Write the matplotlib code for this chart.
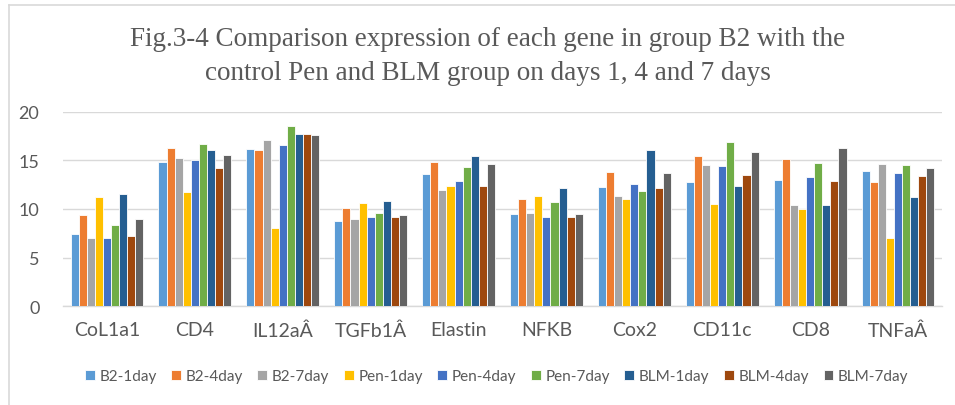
import matplotlib
matplotlib.use("Agg")
import matplotlib.pyplot as plt
import numpy as np
from matplotlib.lines import Line2D

categories = ["CoL1a1", "CD4", "IL12aÂ", "TGFb1Â", "Elastin", "NFKB", "Cox2", "CD11c", "CD8", "TNFaÂ"]
series_names = ["B2-1day", "B2-4day", "B2-7day", "Pen-1day", "Pen-4day", "Pen-7day",
                "BLM-1day", "BLM-4day", "BLM-7day"]
b2_1 = [7.4, 14.8, 16.2, 8.8, 13.6, 9.5, 12.3, 12.8, 13.0, 13.9]
b2_4 = [9.4, 16.3, 16.1, 10.1, 14.8, 11.0, 13.8, 15.5, 15.2, 12.8]
b2_7 = [7.0, 15.3, 17.1, 9.0, 12.0, 9.6, 11.3, 14.5, 10.4, 14.6]
pen_1 = [11.2, 11.8, 8.0, 10.6, 12.4, 11.3, 11.0, 10.5, 10.0, 7.0]
pen_4 = [7.0, 15.0, 16.6, 9.2, 12.9, 9.2, 12.6, 14.4, 13.3, 13.7]
pen_7 = [8.4, 16.7, 18.6, 9.6, 14.3, 10.7, 11.9, 16.9, 14.7, 14.5]
blm_1 = [11.5, 16.1, 17.7, 10.8, 15.5, 12.2, 16.1, 12.4, 10.4, 11.2]
blm_4 = [7.2, 14.2, 17.7, 9.2, 12.4, 9.2, 12.2, 13.5, 12.9, 13.4]
blm_7 = [9.0, 15.6, 17.6, 9.4, 14.6, 9.5, 13.7, 15.9, 16.3, 14.2]
series = [b2_1, b2_4, b2_7, pen_1, pen_4, pen_7, blm_1, blm_4, blm_7]
yticks = [0, 5, 10, 15, 20]

colors = ["#5B9BD5", "#ED7D31", "#A5A5A5", "#FFC000", "#4472C4", "#70AD47",
          "#255E91", "#9E480E", "#636363"]

sans = ["Lato", "DejaVu Sans"]
txt = "#595959"

fig = plt.figure(figsize=(9.55, 4.06), dpi=100)
ax = fig.add_axes([63 / 955, 1 - 307 / 406, (942 - 63) / 955, (307 - 113) / 406])

n = len(series)
x = np.arange(len(categories))
bw = 0.092
for i, (vals, c, name) in enumerate(zip(series, colors, series_names)):
    offs = (i - (n - 1) / 2) * bw
    ax.bar(x + offs, vals, width=bw, color=c, edgecolor="white", linewidth=0.6,
           label=name, zorder=3)

ax.set_xlim(-0.5, len(categories) - 0.5)
ax.set_ylim(0, 20)
ax.set_yticks(yticks)
ax.yaxis.grid(True, color="#D9D9D9", linewidth=1.0, zorder=0)
for s in ["top", "right", "left"]:
    ax.spines[s].set_visible(False)
ax.spines["bottom"].set_color("#D9D9D9")
ax.spines["bottom"].set_linewidth(1.0)
ax.tick_params(axis="both", length=0, labelcolor=txt)
ax.tick_params(axis="y", pad=17, labelsize=13)
ax.tick_params(axis="x", pad=11, labelsize=14)
ax.set_xticks(x)
ax.set_xticklabels(categories)
for lab in ax.get_xticklabels() + ax.get_yticklabels():
    lab.set_family(sans)

serif = ["Liberation Serif", "DejaVu Serif"]
fig.text(0.511, 1 - 40 / 406, "Fig.3-4 Comparison expression of each gene in group B2 with the",
         ha="center", va="center", fontsize=19.5, color=txt, family=serif)
fig.text(0.511, 1 - 73 / 406, "control Pen and BLM group on days 1, 4 and 7 days",
         ha="center", va="center", fontsize=19.5, color=txt, family=serif)

leg = fig.legend(loc="center", bbox_to_anchor=(0.52, 1 - 377 / 406), ncol=9, frameon=False,
                 handlelength=0.65, handleheight=0.65, handletextpad=0.3,
                 columnspacing=0.95, labelcolor=txt, prop={"family": sans, "size": 11})

# outer chart border (top and left visible)
fig.add_artist(Line2D([9 / 955, 1], [1 - 6 / 406, 1 - 6 / 406], transform=fig.transFigure,
                      color="#D9D9D9", linewidth=1.2))
fig.add_artist(Line2D([9 / 955, 9 / 955], [0, 1 - 6 / 406], transform=fig.transFigure,
                      color="#D9D9D9", linewidth=1.2))

fig.savefig("out.png", dpi=100)
